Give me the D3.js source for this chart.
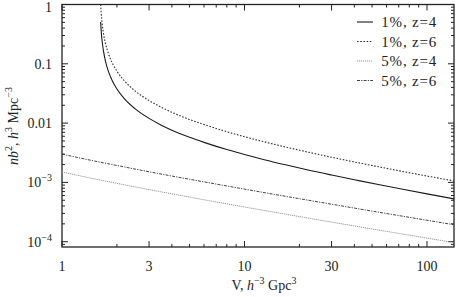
<!DOCTYPE html>
<html>
<head>
<meta charset="utf-8">
<script src="https://cdn.jsdelivr.net/npm/d3@7"></script>
<style>
  body { margin: 0; background: #fff; }
  text { font-family: "Liberation Serif", "DejaVu Serif", serif; fill: #222; }
</style>
</head>
<body>
<div id="graph"></div>
<script>
var svgWidth = 458;
var svgHeight = 297;

// values
var vol1 = [1.628, 1.64, 1.66, 1.69, 1.73, 1.8, 1.9, 2, 2.2, 2.5, 3, 3.5, 4, 5, 6, 8, 10, 13, 17, 22, 30, 40, 55, 75, 100, 140.6];
var nb1z4 = [0.508, 0.356, 0.238, 0.160, 0.111, 0.0729, 0.0493, 0.0375, 0.0256, 0.0177, 0.0120, 0.00924, 0.00761, 0.00576, 0.00473, 0.00358, 0.00295, 0.00239, 0.00196, 0.00163, 0.00133, 0.00111, 0.00091, 0.000757, 0.000641, 0.000528];

var vol1z6 = [1.625].concat(vol1);
var nb1z6 = [1.14, 1.016, 0.712, 0.476, 0.319, 0.222, 0.146, 0.0986, 0.0750, 0.0513, 0.0354, 0.0240, 0.0185, 0.0152, 0.0115, 0.00945, 0.00716, 0.00590, 0.00478, 0.00392, 0.00327, 0.00266, 0.00221, 0.00182, 0.00151, 0.00128, 0.00106];

var vol5 = [1, 1.5, 2, 3, 5, 10, 20, 30, 50, 100, 140.6];
var nb5z4 = [0.00150, 0.00115, 0.000964, 0.000757, 0.000565, 0.000385, 0.000265, 0.000214, 0.000164, 0.000115, 0.0000965];
var nb5z6 = [0.00300, 0.00230, 0.00193, 0.00151, 0.00113, 0.00077, 0.000531, 0.000429, 0.000328, 0.00023, 0.000193];

var seriesNames = ["1%, z=4", "1%, z=6", "5%, z=4", "5%, z=6"];

var xMajor = [1, 3, 10, 30, 100];
var xMinor = [2, 4, 5, 6, 7, 8, 9, 20, 40, 50, 60, 70, 80, 90];
var yMajor = [1, 0.1, 0.01, 0.001, 0.0001];

var margin = { top: 4.5, right: 4, bottom: 50, left: 62 };
var width = svgWidth - margin.left - margin.right;
var height = svgHeight - margin.top - margin.bottom;

var svg = d3.select("#graph").append("svg")
  .attr("width", svgWidth)
  .attr("height", svgHeight);

var chartGroup = svg.append("g")
  .attr("transform", `translate(${margin.left}, ${margin.top})`);

var x = d3.scaleLog().domain([1, 140.6]).range([0, width]);
var y = d3.scaleLog().domain([8.14e-5, 1]).range([height, 0]);

// minor y ticks 2..9 of every decade
var yMinor = [];
[-5, -4, -3, -2, -1].forEach(e => {
  for (var k = 2; k <= 9; k++) {
    var v = k * Math.pow(10, e);
    if (v > y.domain()[0] && v < 1) yMinor.push(v);
  }
});

chartGroup.append("clipPath").attr("id", "clip")
  .append("rect").attr("width", width).attr("height", height);

// ticks on all four sides, pointing in
var tickGroup = chartGroup.append("g").attr("stroke", "#222").attr("stroke-width", 1);
function xTicks(vals, len) {
  vals.forEach(v => {
    tickGroup.append("line").attr("x1", x(v)).attr("x2", x(v)).attr("y1", height).attr("y2", height - len);
    tickGroup.append("line").attr("x1", x(v)).attr("x2", x(v)).attr("y1", 0).attr("y2", len);
  });
}
function yTicks(vals, len) {
  vals.forEach(v => {
    tickGroup.append("line").attr("y1", y(v)).attr("y2", y(v)).attr("x1", 0).attr("x2", len);
    tickGroup.append("line").attr("y1", y(v)).attr("y2", y(v)).attr("x1", width).attr("x2", width - len);
  });
}
xTicks(xMajor, 6);
xTicks(xMinor, 3);
yTicks(yMajor, 6);
yTicks(yMinor, 3);

chartGroup.append("rect")
  .attr("width", width).attr("height", height)
  .attr("fill", "none").attr("stroke", "#222").attr("stroke-width", 1.3);

// tick labels
chartGroup.selectAll(".xlab").data(xMajor).enter().append("text")
  .attr("x", d => x(d)).attr("y", height + 24)
  .attr("text-anchor", "middle").attr("font-size", "14px")
  .text(d => d);

var yLab = chartGroup.selectAll(".ylab").data(yMajor).enter().append("text")
  .attr("x", -10).attr("y", d => Math.max(y(d) + 5, 7))
  .attr("text-anchor", "end").attr("font-size", "14px");
yLab.each(function(d) {
  var t = d3.select(this);
  if (d >= 0.01) {
    t.text(d);
  } else {
    t.append("tspan").text("10");
    t.append("tspan").attr("dy", -6).attr("font-size", "10px").text("\u2212" + Math.round(-Math.log10(d)));
  }
});

// series
var lineFn = d3.line()
  .x(d => x(d[0]))
  .y(d => y(d[1]))
  .curve(d3.curveMonotoneX);

var series = [
  { pts: d3.zip(vol1, nb1z4), color: "#1a1a1a", dash: null, w: 1.1 },
  { pts: d3.zip(vol1z6, nb1z6), color: "#333", dash: "1.6,1.6", w: 1.1 },
  { pts: d3.zip(vol5, nb5z4), color: "#999", dash: "1.2,0.8", w: 1 },
  { pts: d3.zip(vol5, nb5z6), color: "#444", dash: "3,1.2,1.2,1.2", w: 1 }
];

var plot = chartGroup.append("g").attr("clip-path", "url(#clip)");
series.forEach(s => {
  plot.append("path")
    .attr("d", lineFn(s.pts))
    .attr("fill", "none")
    .attr("stroke", s.color)
    .attr("stroke-width", s.w)
    .attr("stroke-dasharray", s.dash);
});

// legend
var legend = svg.append("g");
seriesNames.forEach((name, i) => {
  var ly = 22 + i * 19.5;
  legend.append("line")
    .attr("x1", 357).attr("x2", 373).attr("y1", ly).attr("y2", ly)
    .attr("stroke", series[i].color)
    .attr("stroke-width", series[i].w)
    .attr("stroke-dasharray", series[i].dash);
  legend.append("text")
    .attr("x", 437).attr("y", ly + 5)
    .attr("text-anchor", "end").attr("font-size", "15px")
    .attr("letter-spacing", "0.8px")
    .text(name);
});

// axis titles
var xt = svg.append("text")
  .attr("x", 264).attr("y", 290)
  .attr("text-anchor", "middle").attr("font-size", "14px");
xt.append("tspan").text("V, ");
xt.append("tspan").attr("font-style", "italic").text("h");
xt.append("tspan").attr("dy", -6).attr("font-size", "10px").text("\u22123");
xt.append("tspan").attr("dy", 6).text(" Gpc");
xt.append("tspan").attr("dy", -6).attr("font-size", "10px").text("3");

var yt = svg.append("text")
  .attr("transform", "translate(18, 126) rotate(-90)")
  .attr("text-anchor", "middle").attr("font-size", "14px");
yt.append("tspan").attr("font-style", "italic").text("nb");
yt.append("tspan").attr("dy", -6).attr("font-size", "10px").text("2");
yt.append("tspan").attr("dy", 6).text(", ");
yt.append("tspan").attr("font-style", "italic").text("h");
yt.append("tspan").attr("dy", -6).attr("font-size", "10px").text("3");
yt.append("tspan").attr("dy", 6).text(" Mpc");
yt.append("tspan").attr("dy", -6).attr("font-size", "10px").text("\u22123");
</script>
</body>
</html>
